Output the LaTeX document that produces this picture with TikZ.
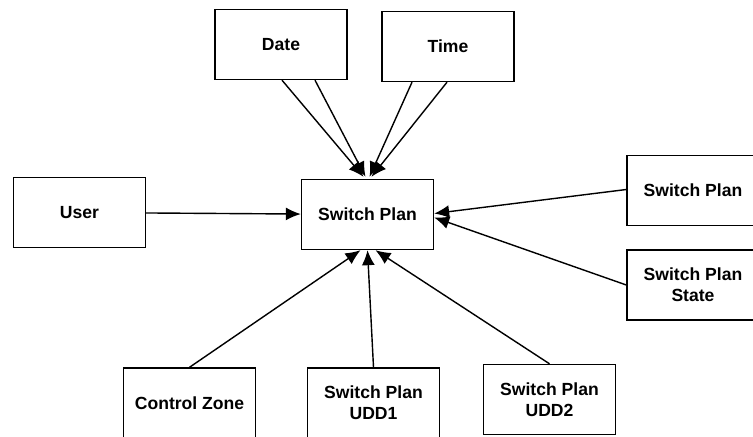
\documentclass[tikz,border=0pt]{standalone}
\usepackage{fontspec}
\setmainfont{Liberation Sans}
\usetikzlibrary{arrows.meta,calc}
\begin{document}
\begin{tikzpicture}[x=0.02cm, y=-0.02cm,
        box/.style={draw, line width=0.8pt, minimum width=2.64cm, minimum height=1.4cm,
            align=center, font=\fontsize{10}{12}\selectfont\bfseries},
        feed/.style={line width=0.8pt, -{Latex[length=0.3cm, width=0.26cm]}}]
        \clip (0, 0) rectangle (753, 436);
        \node[box] (main) at (367.5, 214.5) {Switch Plan};
        \node[box] (date) at (281, 44.5) {Date};
        \node[box] (time) at (448, 46.5) {Time};
        \node[box] (user) at (79.5, 212.5) {User};
        \node[box] (plan) at (693, 190.5) {Switch Plan};
        \node[box] (state) at (693, 285) {Switch Plan\\State};
        \node[box] (zone) at (189.5, 403) {Control Zone};
        \node[box] (udd1) at (373.5, 403) {Switch Plan\\UDD1};
        \node[box] (udd2) at (549.5, 399.5) {Switch Plan\\UDD2};
        \draw[feed] ($(date.south)+(1, 0)$) -- ($(main.north)+(-4, -2)$);
        \draw[feed] ($(date.south)+(34, 0)$) -- ($(main.north)+(-2, -2)$);
        \draw[feed] ($(time.south)+(-36, 0)$) -- ($(main.north)+(2, -2)$);
        \draw[feed] ($(time.south)+(-1, 0)$) -- ($(main.north)+(4, -2)$);
        \draw[feed] (user) -- (main);
        \draw[feed] ($(plan.west)+(0, -1)$) -- ($(main.east)+(0, -1)$);
        \draw[feed] (state.west) -- ($(main.east)+(0, 3)$);
        \draw[feed] (zone.north) -- ($(main.south)+(-7, 0)$);
        \draw[feed] (udd1.north) -- (main.south);
        \draw[feed] (udd2.north) -- ($(main.south)+(8, 0)$);
    \end{tikzpicture}
\end{document}
